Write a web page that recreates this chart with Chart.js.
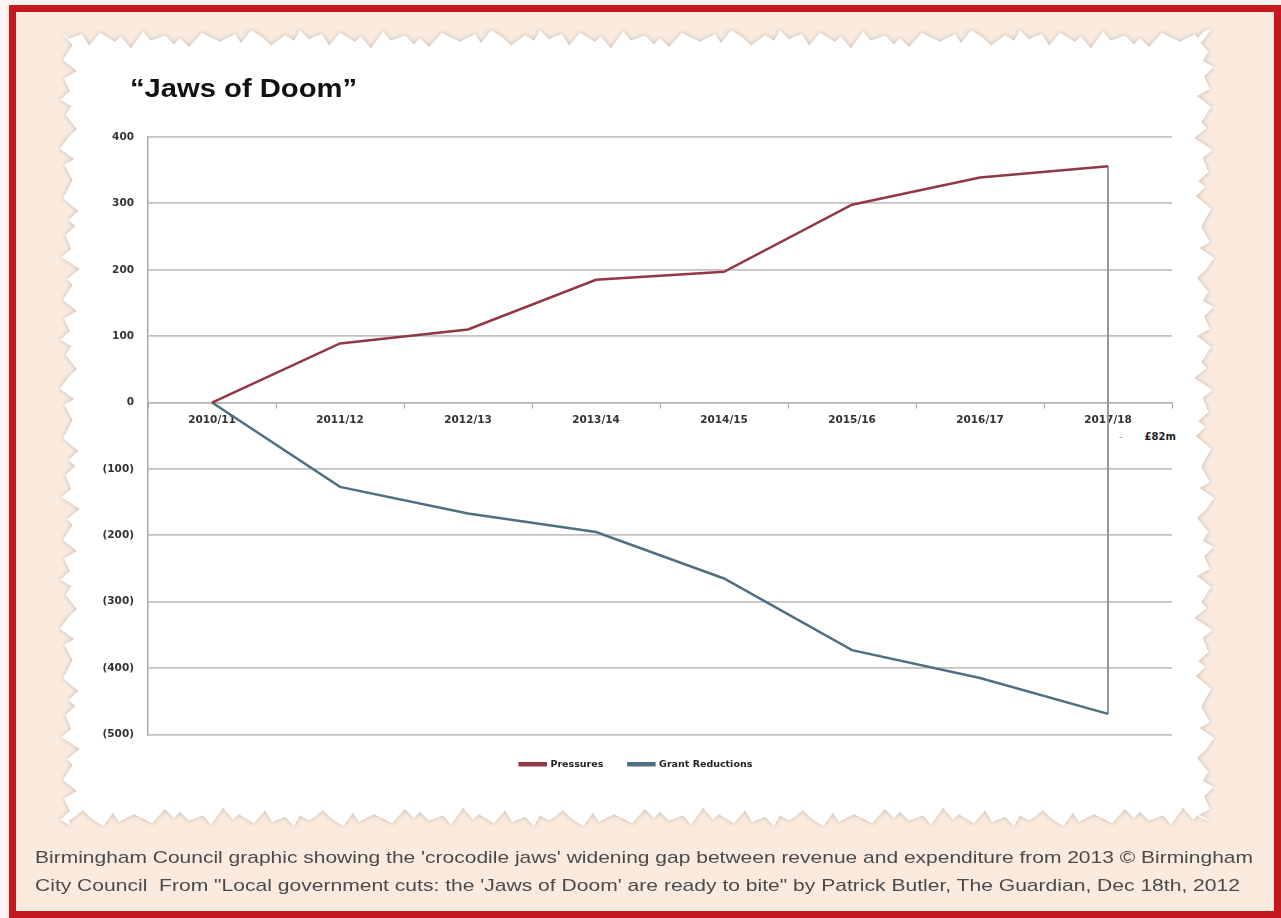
<!DOCTYPE html>
<html><head><meta charset="utf-8">
<script src="https://cdn.jsdelivr.net/npm/chart.js@4.4.1/dist/chart.umd.min.js"></script>
<style>
html,body{margin:0;padding:0;width:1281px;height:918px;overflow:hidden;background:#fdf3f0;}
#frame{position:absolute;left:9px;top:5px;width:1258px;height:899px;border:7px solid #c41a1f;background:#fbebdf;}
#paperWrap{position:absolute;left:0;top:0;width:1281px;height:918px;filter:drop-shadow(0 0 2px rgba(120,110,100,0.45));}
#paper{position:absolute;left:60px;top:30px;width:1154px;height:796px;background:#ffffff;}
#title{position:absolute;left:130px;top:74px;font:bold 25px "Liberation Sans",Arial,sans-serif;color:#111;transform-origin:0 0;white-space:nowrap;}
#unit{position:absolute;left:1119px;top:431px;font:bold 10px "DejaVu Sans",sans-serif;color:#222;white-space:nowrap;}
#unit span{color:#999;margin-right:22px;font-weight:normal;}
.cap{position:absolute;left:35px;font:17px "Liberation Sans",Arial,sans-serif;color:#4a4a4a;white-space:nowrap;transform-origin:0 0;}
#cw{position:absolute;left:0;top:0;width:1281px;height:918px;}
</style></head>
<body>
<div id="frame"></div>
<div id="paperWrap"><div id="paper"></div></div>
<div id="title">“Jaws of Doom”</div>
<div id="unit"><span>-</span>£82m</div>
<div class="cap" id="cap1" style="top:848px">Birmingham Council graphic showing the 'crocodile jaws' widening gap between revenue and expenditure from 2013 © Birmingham</div>
<div class="cap" id="cap2" style="top:876px">City Council &nbsp;From "Local government cuts: the 'Jaws of Doom' are ready to bite" by Patrick Butler, The Guardian, Dec 18th, 2012</div>
<div id="cw"><canvas id="c" width="1281" height="918"></canvas></div>
<script>
const categories = ['2010/11','2011/12','2012/13','2013/14','2014/15','2015/16','2016/17','2017/18'];
const pressures = [0, 89, 110, 185, 197, 298, 339, 356];
const grantReductions = [0, -127, -167, -195, -265, -373, -415, -469];
const yTicks = [400, 300, 200, 100, 0, -100, -200, -300, -400, -500];
const yTickLabels = ['400','300','200','100','0','(100)','(200)','(300)','(400)','(500)'];

// fit text blocks horizontally to the reference widths
function fitW(id,w){const el=document.getElementById(id);const nat=el.getBoundingClientRect().width;el.style.transform='scaleX('+(w/nat).toFixed(4)+')';}
fitW('title',227); fitW('cap1',1218); fitW('cap2',1205);

// decorative torn-paper edge
(function(){
  const pat=[0,7,3,12,2,9,5,14,1,8,4,11,6,13,2,5,9,3,10,0,6,12,4,8];
  const st=[9,13,7,11,15,6,10,12,8,14,9,6];
  const W=1154,H=796; const pts=[]; let k=0,s=0;
  for(let x=0;x<W;x+=st[s++%st.length]){pts.push([x,pat[k++%pat.length]*1.3]);}
  for(let y=0;y<H;y+=st[s++%st.length]){pts.push([W-pat[k++%pat.length]*1.4,y]);}
  for(let x=W;x>0;x-=st[s++%st.length]){pts.push([x,H-pat[k++%pat.length]*1.3]);}
  for(let y=H;y>0;y-=st[s++%st.length]){pts.push([pat[k++%pat.length]*1.4,y]);}
  document.getElementById('paper').style.clipPath='polygon('+pts.map(p=>p[0].toFixed(1)+'px '+p[1].toFixed(1)+'px').join(',')+')';
})();

const redCol='#923843', blueCol='#4e7080';
const last=categories.length-1;
const tickFont={family:'"DejaVu Sans",sans-serif',size:10.5,weight:'bold'};
new Chart(document.getElementById('c'),{
  type:'line',
  data:{
    labels:categories,
    datasets:[
      {label:'Pressures',data:pressures,borderColor:redCol,backgroundColor:redCol,borderWidth:2.5,pointRadius:0,tension:0},
      {label:'Grant Reductions',data:grantReductions,borderColor:blueCol,backgroundColor:blueCol,borderWidth:2.5,pointRadius:0,tension:0},
      {label:'gap',data:[{x:categories[last],y:pressures[last]},{x:categories[last],y:grantReductions[last]}],borderColor:'#8c9ca6',backgroundColor:'#8c9ca6',borderWidth:2,pointRadius:0}
    ]
  },
  options:{
    responsive:false,animation:false,
    layout:{padding:{left:100,right:109,top:137,bottom:139}},
    plugins:{
      tooltip:{enabled:false},
      legend:{position:'bottom',labels:{filter:(it)=>it.datasetIndex<2,boxWidth:26,boxHeight:2,padding:25,color:'#222',font:{family:'"DejaVu Sans",sans-serif',size:9.5,weight:'bold'}}}
    },
    scales:{
      x:{type:'category',position:{y:0},offset:true,
        grid:{drawOnChartArea:false,drawTicks:true,tickLength:5,color:'#a0a0a0',offset:true},
        border:{display:true,color:'#b5b5b5',width:1.5},
        ticks:{maxRotation:0,autoSkip:false,padding:6,color:'#333',font:tickFont}},
      y:{min:-500,max:400,
        afterFit:(s)=>{s.width=48;},
        afterBuildTicks:(s)=>{s.ticks=yTicks.map(v=>({value:v}));},
        grid:{color:'#c2c2c2',lineWidth:1.8,drawTicks:false},
        border:{display:true,color:'#a9a9a9',width:1.5},
        ticks:{padding:14,color:'#333',font:tickFont,
          callback:(v)=>yTickLabels[yTicks.indexOf(v)]}}
    }
  }
});
</script>
</body></html>
